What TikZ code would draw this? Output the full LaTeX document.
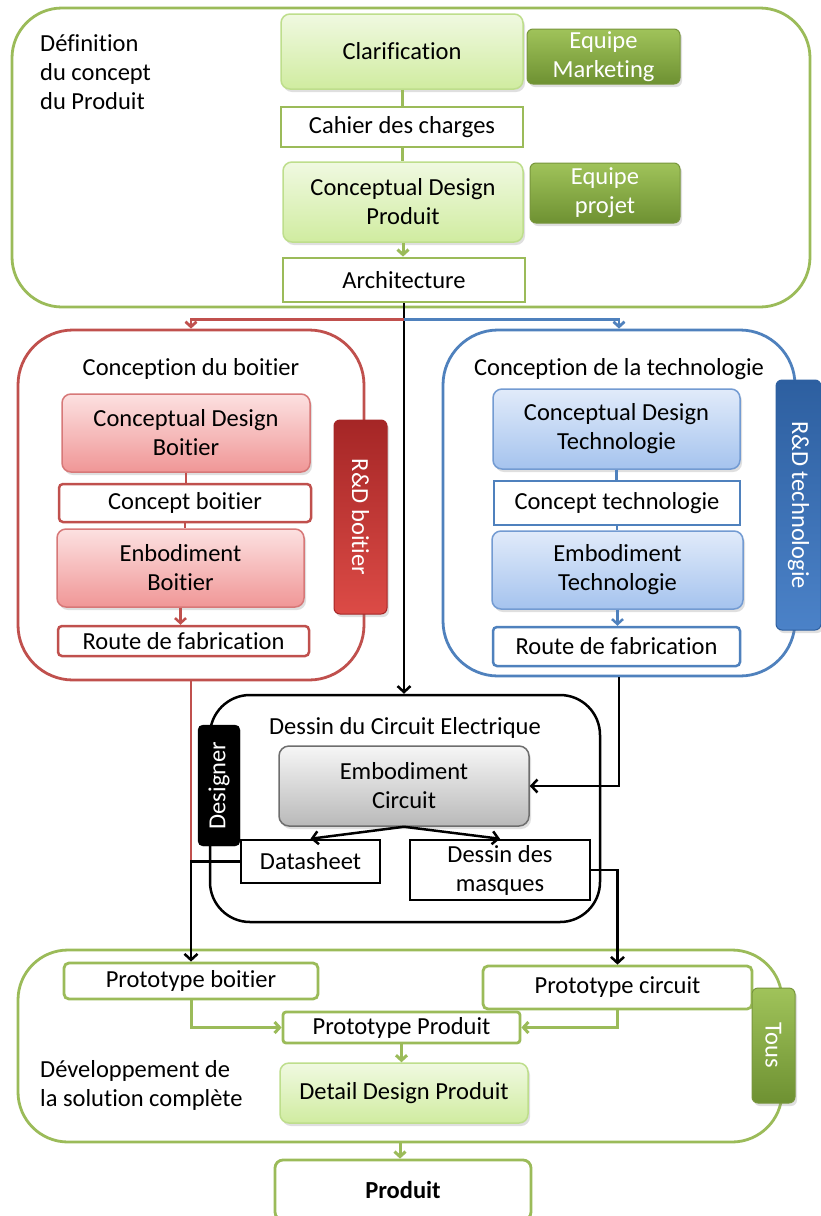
\documentclass[tikz,border=0pt]{standalone}
\usepackage{fontspec}
\setmainfont{Carlito}[Ligatures=NoCommon]
\usetikzlibrary{arrows.meta,shadows}
\definecolor{gline}{RGB}{155,187,89}
\definecolor{rline}{RGB}{192,80,77}
\definecolor{bline}{RGB}{79,129,189}
\definecolor{lgtop}{RGB}{240,249,225}
\definecolor{lgbot}{RGB}{208,236,160}
\definecolor{lgbord}{RGB}{190,222,140}
\definecolor{dgtop}{RGB}{160,195,90}
\definecolor{dgbot}{RGB}{110,145,50}
\definecolor{dgbord}{RGB}{120,150,60}
\definecolor{rtop}{RGB}{252,225,225}
\definecolor{rbot}{RGB}{240,150,150}
\definecolor{rbord}{RGB}{215,120,120}
\definecolor{rdtop}{RGB}{220,75,70}
\definecolor{rdbot}{RGB}{165,38,38}
\definecolor{btop}{RGB}{225,235,250}
\definecolor{bbot}{RGB}{165,195,238}
\definecolor{bbord}{RGB}{115,155,210}
\definecolor{bdtop}{RGB}{75,130,200}
\definecolor{bdbot}{RGB}{45,95,160}
\definecolor{gytop}{RGB}{246,246,246}
\definecolor{gybot}{RGB}{185,185,185}
\definecolor{gybord}{RGB}{110,110,110}
\begin{document}
\begin{tikzpicture}[x=1pt,y=-1pt,
  font=\fontsize{24.5}{29}\selectfont,
  every node/.style={inner sep=0pt, align=center},
  cont/.style={draw=#1, line width=2.8pt, rounded corners=50pt},
  shad/.style={drop shadow={opacity=0.25,shadow xshift=2pt,shadow yshift=-3pt}},
  lgbox/.style={draw=lgbord, line width=1.5pt, rounded corners=9pt, top color=lgtop, bottom color=lgbot, shad},
  dgbox/.style={draw=dgbord, line width=1pt, rounded corners=6pt, top color=dgtop, bottom color=dgbot, text=white, shad},
  rbox/.style={draw=rbord, line width=1.5pt, rounded corners=9pt, top color=rtop, bottom color=rbot, shad},
  rdbox/.style={draw=rdbot, line width=1pt, rounded corners=6pt, top color=rdbot, bottom color=rdtop, text=white, shad},
  bbox/.style={draw=bbord, line width=1.5pt, rounded corners=9pt, top color=btop, bottom color=bbot, shad},
  bdbox/.style={draw=bdbot, line width=1pt, rounded corners=6pt, top color=bdbot, bottom color=bdtop, text=white, shad},
  gybox/.style={draw=gybord, line width=1.5pt, rounded corners=10pt, top color=gytop, bottom color=gybot, shad},
  wbox/.style={draw=#1, line width=2.8pt, fill=white},
  gl/.style={draw=gline, line width=3pt},
  garrow/.style={gl, -{Straight Barb[length=5pt,width=11pt]}},
  rarrow/.style={draw=rline, line width=2.8pt, -{Straight Barb[length=5pt,width=11pt]}},
  barrow/.style={draw=bline, line width=2.8pt, -{Straight Barb[length=5pt,width=11pt]}},
  karrow/.style={draw=black, line width=2.5pt, -{Straight Barb[length=6pt,width=13pt]}}
]
\useasboundingbox (0,0) rectangle (821,1216);
\fill[white] (0,0) rectangle (821,1216);

% containers
\node[cont=gline, minimum width=798, minimum height=299] (top) at (411,157.5) {};
\node[cont=rline, minimum width=346, minimum height=350, rounded corners=55pt] (left) at (191,505) {};
\node[cont=bline, minimum width=352, minimum height=346, rounded corners=55pt] (right) at (619,503) {};
\node[draw=black, line width=2.5pt, rounded corners=40pt, minimum width=390, minimum height=227] (dessin) at (405,808.5) {};
\node[cont=gline, minimum width=764, minimum height=192] (bottom) at (400,1046) {};

% top section
\node[anchor=north west, align=left] (deft) at (40,34) {Définition\\du concept\\du Produit};
\node[lgbox, minimum width=242, minimum height=75] (clar) at (402,51.5) {Clarification};
\node[dgbox, minimum width=153, minimum height=55] (eqmkt) at (603.5,56.5) {Equipe\\Marketing};
\node[wbox=gline, minimum width=242, minimum height=40] (cahier) at (402,127) {Cahier des charges};
\node[lgbox, minimum width=240, minimum height=80] (cdp) at (403,202) {Conceptual Design\\Produit};
\node[dgbox, minimum width=150, minimum height=60] (eqproj) at (605,193) {Equipe\\projet};
\node[wbox=gline, minimum width=242, minimum height=44] (archi) at (404,280) {Architecture};

% left section
\node (tleft) at (191,369) {Conception du boitier};
\node[rbox, minimum width=248, minimum height=78] (cdb) at (186,433) {Conceptual Design\\Boitier};
\node[wbox=rline, line width=2.5pt, rounded corners=4pt, minimum width=252, minimum height=38] (concb) at (185,503) {Concept boitier};
\node[rbox, minimum width=247, minimum height=78] (ebb) at (180.5,568) {Enbodiment\\Boitier};
\node[wbox=rline, line width=2.5pt, rounded corners=4pt, minimum width=251, minimum height=30] (routeb) at (183.5,641) {Route de fabrication};
\node[rdbox, rotate=-90, minimum width=194, minimum height=53] (rdb) at (360.5,517) {R\&D boitier};

% right section
\node (tright) at (619,369) {Conception de la technologie};
\node[bbox, minimum width=247, minimum height=80] (cdt) at (616.5,429) {Conceptual Design\\Technologie};
\node[wbox=bline, line width=2.5pt, minimum width=246, minimum height=44] (conct) at (617,503) {Concept technologie};
\node[bbox, minimum width=251, minimum height=78] (ebt) at (617.5,570) {Embodiment\\Technologie};
\node[wbox=bline, line width=2.5pt, rounded corners=4pt, minimum width=247, minimum height=39] (routet) at (616.5,646.5) {Route de fabrication};
\node[bdbox, rotate=-90, minimum width=250, minimum height=45] (rdt) at (798.5,505) {R\&D technologie};

% circuit section
\node (tdessin) at (405,728) {Dessin du Circuit Electrique};
\node[gybox, minimum width=250, minimum height=80] (ebc) at (404,786) {Embodiment\\Circuit};
\node[wbox=black, line width=2.5pt, minimum width=139, minimum height=43] (datasheet) at (310.5,861.5) {Datasheet};
\node[wbox=black, line width=2.5pt, minimum width=180, minimum height=60] (masques) at (500,870) {Dessin des\\masques};
\node[draw=black, fill=black, rounded corners=5pt, text=white, rotate=90, minimum width=121, minimum height=42] (designer) at (219,785.5) {Designer};

% bottom section
\node[anchor=north west, align=left] (devt) at (40,1060) {Développement de\\la solution complète};
\node[wbox=gline, rounded corners=5pt, minimum width=254, minimum height=36] (protob) at (191,981) {Prototype boitier};
\node[wbox=gline, rounded corners=5pt, minimum width=269, minimum height=43] (protoc) at (617.5,987.5) {Prototype circuit};
\node[wbox=gline, rounded corners=3pt, minimum width=237, minimum height=31] (protop) at (401.5,1027.5) {Prototype Produit};
\node[lgbox, minimum width=248, minimum height=60] (ddp) at (404,1093) {Detail Design Produit};
\node[dgbox, rotate=-90, minimum width=115, minimum height=43] (tous) at (773.5,1045.5) {Tous};
\node[wbox=gline, rounded corners=8pt, minimum width=256, minimum height=60, font=\fontsize{24.5}{29}\selectfont\bfseries] (produit) at (403,1190) {Produit};

% connectors top
\draw[gl] (clar.south) -- (clar.south |- cahier.north);
\draw[gl] (cahier.south) -- (cahier.south |- cdp.north);
\draw[garrow] (cdp.south) -- (cdp.south |- archi.north);
\path (archi.south) ++(0,16) coordinate (split);
\draw[karrow] (archi.south) -- (archi.south |- dessin.north);
\draw[rarrow] (split) -| (left.north);
\draw[barrow] (split) -| (right.north);

% left
\draw[draw=rline, line width=2.5pt] (cdb.south) -- (cdb.south |- concb.north);
\draw[draw=rline, line width=2.5pt] (concb.south) -- (concb.south |- ebb.north);
\draw[rarrow, line width=2.5pt] (ebb.south) -- (ebb.south |- routeb.north);
% right
\draw[draw=bline, line width=2.5pt] (cdt.south) -- (cdt.south |- conct.north);
\draw[draw=bline, line width=2.5pt] (conct.south) -- (conct.south |- ebt.north);
\draw[barrow, line width=2.5pt] (ebt.south) -- (ebt.south |- routet.north);

% circuit
\draw[karrow] (right.south) |- (ebc.east);
\draw[karrow] (ebc.south) -- (datasheet.north);
\draw[karrow] (ebc.south) -- (masques.north);
\draw[draw=rline, line width=2.8pt] (left.south) -- (left.south |- datasheet.west);
\draw[karrow] (datasheet.west) -| (protob.north);
\draw[karrow] (masques.east) -| (protoc.north);

% bottom
\draw[garrow] (protob.south) |- (protop.west);
\draw[garrow] (protoc.south) |- (protop.east);
\draw[garrow] (protop.south) -- (protop.south |- ddp.north);
\draw[garrow] (bottom.south) -- (bottom.south |- produit.north);
\end{tikzpicture}
\end{document}
